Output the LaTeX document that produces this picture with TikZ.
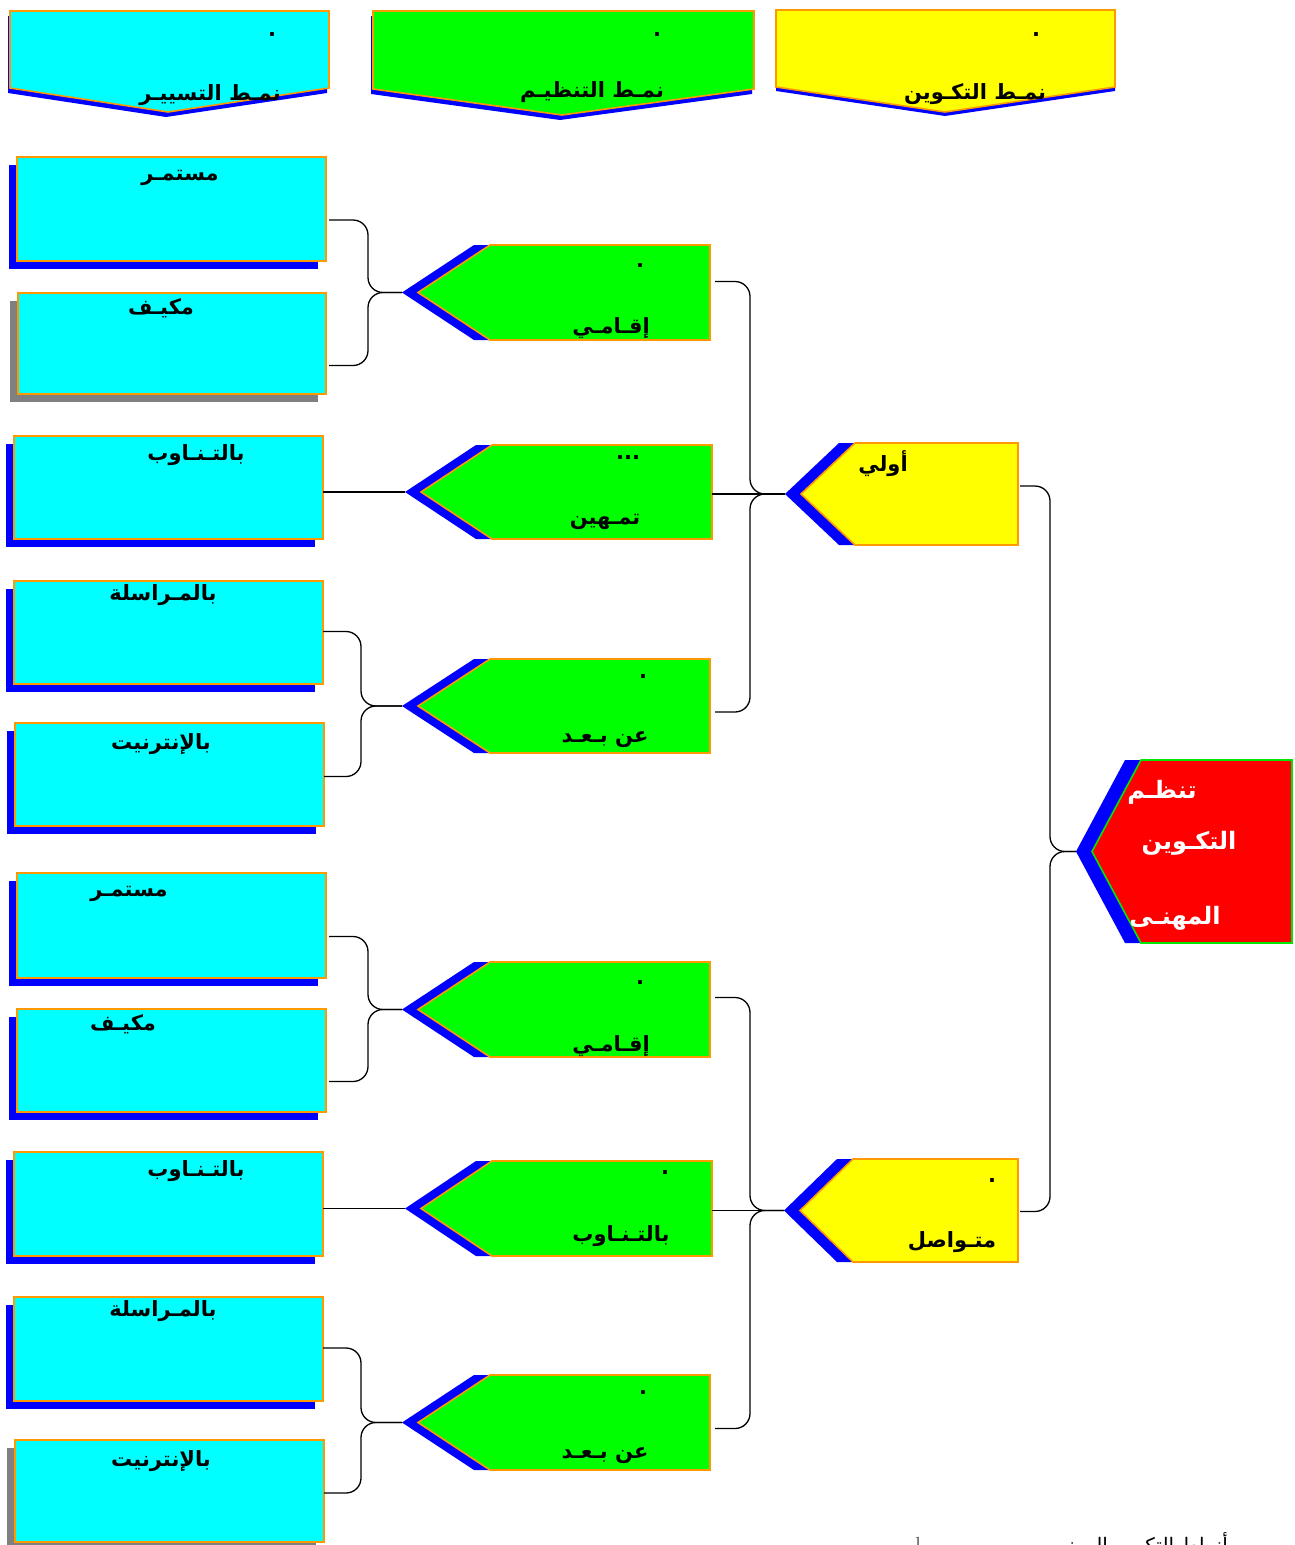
\documentclass[tikz,border=0pt]{standalone}
\usepackage{fontspec}
\TeXXeTstate=1
\newfontfamily\arabicfont[Script=Arabic]{DejaVu Sans}

\definecolor{cyanfill}{RGB}{0,255,255}
\definecolor{greenfill}{RGB}{0,255,0}
\definecolor{yellowfill}{RGB}{255,255,0}
\definecolor{redfill}{RGB}{255,0,0}
\definecolor{edgeorange}{RGB}{255,153,0}
\definecolor{edgegreen}{RGB}{0,230,0}
\definecolor{shadeblue}{RGB}{0,0,255}
\definecolor{shadegray}{RGB}{128,128,128}

\tikzset{
  artext/.style={font=\arabicfont\bfseries\fontsize{21}{24}\selectfont, inner sep=0pt, anchor=base},
  headtext/.style={artext, font=\arabicfont\bfseries\fontsize{21}{24}\selectfont},
  whitetext/.style={artext, text=white, font=\arabicfont\bfseries\fontsize{24}{28}\selectfont},
  bodyedge/.style={draw=edgeorange, line width=1.6pt},
  bracket/.style={draw=black, line width=1.3pt, rounded corners=15pt},
  hook/.style={inner sep=0pt, outer sep=0pt},
}

% rectangular box with an offset shadow: name, x1, y1, x2, y2, shadow colour
\newcommand{\modebox}[6]{%
  \fill[#6] ({#2-8},{#3+8}) rectangle ({#4-8},{#5+8});
  \node[bodyedge, fill=cyanfill, hook, minimum width={#4-#2}, minimum height={#5-#3},
        anchor=north west] (#1) at (#2,#3) {};
}

% left-pointing pentagon with a blue shadow: name, xl, yt, xr, yb, tip x, fill, edge
\newcommand{\pointer}[8]{%
  \fill[shadeblue] ({#6-16},{(#3+#5)/2}) -- ({#2-16},#3) -- ({#4-16},#3) -- ({#4-16},#5) -- ({#2-16},#5) -- cycle;
  \filldraw[fill=#7, draw=#8, line width=1.6pt] (#6,{(#3+#5)/2}) -- (#2,#3) -- (#4,#3) -- (#4,#5) -- (#2,#5) -- cycle;
  \node[hook, minimum width={#4-#2}, minimum height={#5-#3}, anchor=north west] (#1) at (#2,#3) {};
  \coordinate (#1-tip) at ({#6-16},{(#3+#5)/2});
}

% downward banner: name, xl, yt, xr, side y, tip x, tip y, fill, shadow shift
\newcommand{\banner}[9]{%
  \fill[shadeblue, shift={(#9)}] (#2,#3) -- (#4,#3) -- (#4,#5) -- (#6,#7) -- (#2,#5) -- cycle;
  \filldraw[fill=#8, bodyedge] (#2,#3) -- (#4,#3) -- (#4,#5) -- (#6,#7) -- (#2,#5) -- cycle;
  \node[hook, minimum width={#4-#2}, minimum height={#5-#3}, anchor=north west] (#1) at (#2,#3) {};
}

\begin{document}
\begin{tikzpicture}[x=1pt,y=-1pt]
\useasboundingbox (0,0) rectangle (1295,1545);
\clip (0,0) rectangle (1295,1545);
\fill[white] (0,0) rectangle (1295,1545);

% ---- column headings ----
\banner{hdA}{10}{11}{329}{88}{168}{112}{cyanfill}{-2,5}
\banner{hdB}{373}{11}{754}{89}{562}{115}{greenfill}{-2,5}
\banner{hdC}{776}{10}{1115}{87}{945}{112}{yellowfill}{0,4}
\node[artext] (hdAdot) at (272,36) {.};
\node[artext] (hdBdot) at (657,36) {.};
\node[artext] (hdCdot) at (1036,36) {.};
\node[headtext] (hdAtxt) at (210,100) {\beginR نمـط التسييـر\endR};
\node[headtext] (hdBtxt) at (592,97) {\beginR نمـط  التنظيـم\endR};
\node[headtext] (hdCtxt) at (975,99) {\beginR نمـط التكـوين\endR};

% ---- management modes ----
\modebox{b1}{17}{157}{326}{261}{shadeblue}
\modebox{b2}{18}{293}{326}{394}{shadegray}
\modebox{b3}{14}{436}{323}{539}{shadeblue}
\modebox{b4}{14}{581}{323}{684}{shadeblue}
\modebox{b5}{15}{723}{324}{826}{shadeblue}
\modebox{b6}{17}{873}{326}{978}{shadeblue}
\modebox{b7}{17}{1009}{326}{1112}{shadeblue}
\modebox{b8}{14}{1152}{323}{1256}{shadeblue}
\modebox{b9}{14}{1297}{323}{1401}{shadeblue}
\modebox{b10}{15}{1440}{324}{1542}{shadegray}

\node[artext] (b1txt) at (180,180) {\beginR مستمـر\endR};
\node[artext] (b2txt) at (161,314) {\beginR مكيـف\endR};
\node[artext] (b3txt) at (196,460) {\beginR بالتـنـاوب\endR};
\node[artext] (b4txt) at (163,600) {\beginR بالمـراسلة\endR};
\node[artext] (b5txt) at (161,749) {\beginR بالإنترنيت\endR};
\node[artext] (b6txt) at (129,896) {\beginR مستمـر\endR};
\node[artext] (b7txt) at (123,1030) {\beginR مكيـف\endR};
\node[artext] (b8txt) at (196,1176) {\beginR بالتـنـاوب\endR};
\node[artext] (b9txt) at (163,1316) {\beginR بالمـراسلة\endR};
\node[artext] (b10txt) at (161,1466) {\beginR بالإنترنيت\endR};

% ---- organisation modes ----
\pointer{g1}{490}{245}{710}{340}{418}{greenfill}{edgeorange}
\pointer{g2}{492}{445}{712}{539}{421}{greenfill}{edgeorange}
\pointer{g3}{490}{659}{710}{753}{418}{greenfill}{edgeorange}
\pointer{g4}{490}{962}{710}{1057}{418}{greenfill}{edgeorange}
\pointer{g5}{492}{1161}{712}{1256}{421}{greenfill}{edgeorange}
\pointer{g6}{490}{1375}{710}{1470}{418}{greenfill}{edgeorange}

\node[artext] (g1dot) at (640,267) {.};
\node[artext] (g1txt) at (611,333) {\beginR إقـامـي\endR};
\node[artext] (g2dot) at (628,459) {...};
\node[artext] (g2txt) at (605,524) {\beginR تمـهين\endR};
\node[artext] (g3dot) at (643,678) {.};
\node[artext] (g3txt) at (605,742) {\beginR عن بـعـد\endR};
\node[artext] (g4dot) at (640,984) {.};
\node[artext] (g4txt) at (611,1051) {\beginR إقـامـي\endR};
\node[artext] (g5dot) at (665,1174) {.};
\node[artext] (g5txt) at (621,1241) {\beginR بالتـنـاوب\endR};
\node[artext] (g6dot) at (643,1394) {.};
\node[artext] (g6txt) at (605,1458) {\beginR عن بـعـد\endR};

% ---- training types ----
\pointer{y1}{855}{443}{1018}{545}{801}{yellowfill}{edgeorange}
\pointer{y2}{853}{1159}{1018}{1262}{800}{yellowfill}{edgeorange}
\node[artext] (y1txt) at (883,471) {\beginR أولي\endR};
\node[artext] (y2dot) at (992,1182) {.};
\node[artext] (y2txt) at (952,1247) {\beginR متـواصل\endR};

% ---- root ----
\pointer{r}{1141}{760}{1292}{943}{1092}{redfill}{edgegreen}
\node[whitetext] (rtxtA) at (1162,798) {\beginR تنظـم\endR};
\node[whitetext] (rtxtB) at (1189,849) {\beginR التكـوين\endR};
\node[whitetext] (rtxtC) at (1175,924) {\beginR المهنـى\endR};

% ---- connectors: upper branch ----
\draw[bracket] ([xshift=3pt,yshift=-11pt]b1.east) -- ++(39,0) |- (g1-tip);
\draw[bracket] ([xshift=3pt,yshift=-22pt]b2.east) -- ++(39,0) |- (g1-tip);
\draw[bracket] (g2-tip) -- (g2-tip -| b3.east);
\draw[bracket] ([yshift=1pt]b4.east) -- ++(38,0) |- (g3-tip);
\draw[bracket] ([yshift=-2pt]b5.east) -- ++(37,0) |- (g3-tip);
\draw[bracket] ([xshift=5pt,yshift=11pt]g1.east) -- ++(35,0) |- (y1-tip);
\draw[bracket] (y1-tip) -- (y1-tip -| g2.east);
\draw[bracket] ([xshift=5pt,yshift=-6pt]g3.east) -- ++(35,0) |- (y1-tip);

% ---- connectors: lower branch ----
\draw[bracket] ([xshift=3pt,yshift=-11pt]b6.east) -- ++(39,0) |- (g4-tip);
\draw[bracket] ([xshift=3pt,yshift=-21pt]b7.east) -- ++(39,0) |- (g4-tip);
\draw[bracket] (g5-tip) -- (g5-tip -| b8.east);
\draw[bracket] ([yshift=1pt]b9.east) -- ++(38,0) |- (g6-tip);
\draw[bracket] ([yshift=-2pt]b10.east) -- ++(37,0) |- (g6-tip);
\draw[bracket] ([xshift=5pt,yshift=12pt]g4.east) -- ++(35,0) |- (y2-tip);
\draw[bracket] (y2-tip) -- (y2-tip -| g5.east);
\draw[bracket] ([xshift=5pt,yshift=-6pt]g6.east) -- ++(35,0) |- (y2-tip);

% ---- connectors to the root ----
\draw[bracket] ([xshift=2pt,yshift=8pt]y1.east) -- ++(30,0) |- (r-tip);
\draw[bracket] ([xshift=2pt,yshift=-1pt]y2.east) -- ++(30,0) |- (r-tip);

% ---- caption running off the lower edge ----
\node[font=\arabicfont\fontsize{20}{22}\selectfont, inner sep=0pt, anchor=base east] (caption) at (1228,1552) {\beginR أنماط التكوين المهني\endR};
\node[font=\fontsize{14}{16}\selectfont, inner sep=0pt, anchor=base] (capnote) at (918,1546) {1};
\end{tikzpicture}
\end{document}
